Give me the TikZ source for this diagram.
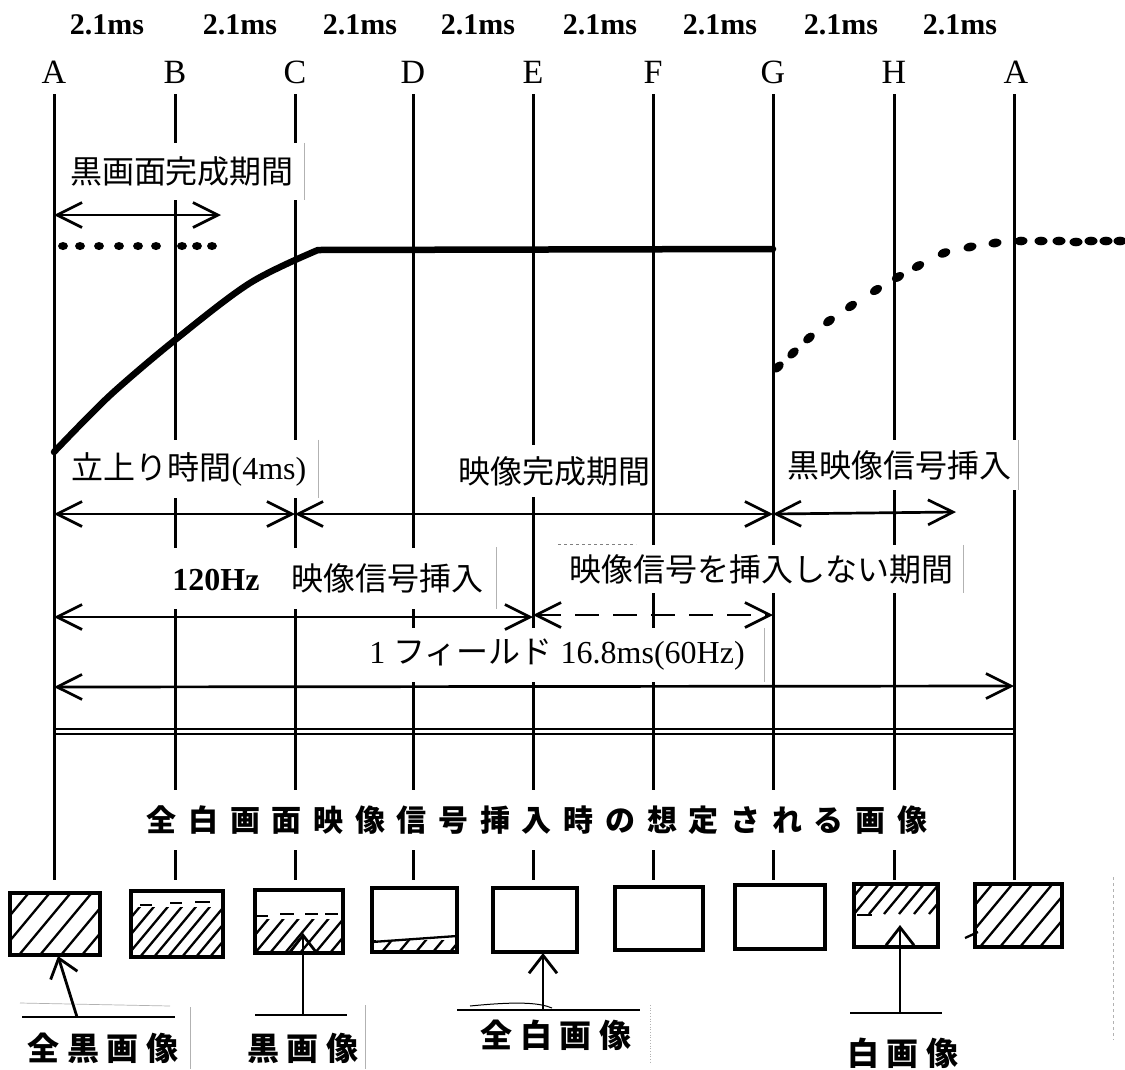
\documentclass[tikz,border=0pt]{standalone}
\usepackage{fontspec}
\setmainfont{Liberation Serif}
\newfontfamily\jpfont{Noto Sans CJK JP}
\newfontfamily\jpwide{Noto Sans CJK JP}[LetterSpace=39]
\newfontfamily\jpmid{Noto Sans CJK JP}[LetterSpace=24]
\usetikzlibrary{arrows.meta}
\newcommand{\myhatch}[5]{%
  \begin{scope}
    \clip (#1,#2) rectangle (#3,#4);
    \foreach \s in {0,...,16}{\draw[hatch] ({#1-75+\s*#5},#4) -- ++(75,-90);}
  \end{scope}}
\begin{document}
\begin{tikzpicture}[x=1pt,y=-1pt,
  vline/.style={line width=3pt},
  dimarrow/.style={line width=2.7pt,{Straight Barb[length=25pt,width=25pt]}-{Straight Barb[length=25pt,width=25pt]}},
  uparrow/.style={line width=2.8pt,-{Straight Barb[length=18pt,width=28pt]}},
  uline/.style={line width=2.8pt},
  hatch/.style={line width=2.3pt},
  picbox/.style={draw,line width=3.3pt,inner sep=0pt},
  paste/.style={gray!60,line width=0.7pt},
  lab/.style={fill=white,inner sep=0pt,font=\jpfont\fontsize{32}{38}\selectfont},
  letter/.style={font=\fontsize{34}{36}\selectfont},
  ms/.style={font=\bfseries\fontsize{30}{32}\selectfont},
  biglab/.style={font=\jpmid\bfseries\fontsize{32}{38}\selectfont},
]
\useasboundingbox (0,0) rectangle (1125,1069);
\fill[white] (0,0) rectangle (1125,1069);

% period labels
\foreach \x [count=\i] in {107,240,360,478,600,720,841,960}
  \node[ms] (ms\i) at (\x,25) {2.1ms};

% letters
\foreach \n/\x/\t in {la/54/A,lb/175/B,lc/295/C,ld/413/D,le/533/E,lf/653/F,lg/773/G,lh/894/H,lz/1016/A}
  \node[letter] (\n) at (\x,72) {\t};

% vertical lines
\foreach \n/\x in {A/54,B/175,C/295,D/413,E/533,F/653,G/773,H/894,Z/1014}{
  \coordinate (v\n) at (\x,94);
  \coordinate (w\n) at (\x,880);
}
\foreach \n in {A,B,C,D,E,F,G,H,Z}
  \draw[vline] (v\n) -- (w\n);

% double line
\draw[line width=1.6pt] (vA |- 0,729) -- (vZ |- 0,729);
\draw[line width=1.6pt] (vA |- 0,734) -- (vZ |- 0,734);

% white paste-up labels
\node[lab, minimum width=244pt, minimum height=57pt] (k1) at (182,171.5) {黒画面完成期間};
\node[lab, minimum width=258pt, minimum height=58pt] (k2) at (189,469) {立上り時間{\rmfamily(4ms)}};
\node[lab, minimum width=192pt, minimum height=52pt] (k3) at (554,471) {映像完成期間};
\node[lab, minimum width=238pt, minimum height=50pt] (k4) at (899,465) {黒映像信号挿入};
\node[lab, minimum width=336pt, minimum height=61pt] (k5) at (328,578) {{\rmfamily\bfseries 120Hz}\hspace{32pt}映像信号挿入};
\node[lab, minimum width=405pt, minimum height=48pt] (k6) at (761,569) {映像信号を挿入しない期間};
\node[lab, minimum width=415pt, minimum height=54pt] (k7) at (557,655) {{\rmfamily 1\ }フィールド{\rmfamily\ 16.8ms(60Hz)}};
\node[lab, minimum width=795pt, minimum height=60pt, font=\jpwide\bfseries\fontsize{30}{36}\selectfont] (k8) at (537,820) {全白画面映像信号挿入時の想定される画像};

% paste edges
\draw[paste] (k1.north east) -- (k1.south east);
\draw[paste] (k2.north east) -- (k2.south east);
\draw[paste] (k4.north east) -- (k4.south east);
\draw[paste] (k5.north east) -- (k5.south east);
\draw[paste] (k6.north east) -- (k6.south east);
\draw[paste, dashed, gray] (k6.north west) -- ++(78,0);
\draw[paste] (k7.north east) -- (k7.south east);
\draw[paste] (190,1007) -- (190,1069);
\draw[paste] (365,1005) -- (365,1069);
\draw[paste, dotted] (650,1005) -- (650,1062);
\draw[paste, dashed] (1113,877) -- (1113,1040);

% rising curve and plateau
\draw[line width=6.5pt, line join=round, line cap=round]
  plot[smooth, tension=0.55] coordinates {(54,452) (85,420) (117,389) (175,340) (250,283) (318,250)} -- (773,249);

% dotted levels
\foreach \x in {63,80,99,119,138,156,182,197,212}
  \fill (\x,246) ellipse [x radius=5pt, y radius=4pt];
\foreach \x/\y/\a in {778/367/43,793/353/43,809/338/40,829/321/36,851/306/34,876/290/32,898/277/30,918/266/28,944/253/22,970/247/13,995/243/8,1021/241/3,1041/241/0,1059/241/0,1076/242/0,1091/241/0,1106/241/0,1120/241/0}
  \fill[rotate around={\a:(\x,\y)}] (\x,\y) ellipse [x radius=6.5pt, y radius=4.3pt];

% dimension arrows
\coordinate (p0a) at (54,215); \coordinate (p0b) at (221,215);
\draw[dimarrow] (p0a) -- (p0b);
\coordinate (r1a) at (54,514); \coordinate (r1c) at (295,514);
\coordinate (r1g) at (773,514); \coordinate (r1e) at (956,512);
\draw[dimarrow] (r1a) -- (r1c);
\draw[dimarrow] (r1c) -- (r1g);
\draw[dimarrow] (r1g) -- (r1e);
\coordinate (r2a) at (54,617); \coordinate (r2e) at (533,617);
\coordinate (r2f) at (533,615); \coordinate (r2g) at (773,615);
\draw[dimarrow] (r2a) -- (r2e);
\draw[dimarrow, dash pattern=on 24pt off 14pt] (r2f) -- (r2g);
\coordinate (r3a) at (54,687); \coordinate (r3z) at (1014,686);
\draw[dimarrow] (r3a) -- (r3z);

% picture boxes
\node[picbox, minimum width=90pt, minimum height=62pt] (b1) at (55,924) {};
\node[picbox, minimum width=92pt, minimum height=66pt] (b2) at (177,924) {};
\node[picbox, minimum width=88pt, minimum height=63pt] (b3) at (299,921.5) {};
\node[picbox, minimum width=85pt, minimum height=64pt] (b4) at (414.5,920) {};
\node[picbox, minimum width=84pt, minimum height=64pt] (b5) at (535,920) {};
\node[picbox, minimum width=88pt, minimum height=63pt] (b6) at (659,918.5) {};
\node[picbox, minimum width=90pt, minimum height=64pt] (b7) at (780,917) {};
\node[picbox, minimum width=84pt, minimum height=63pt] (b8) at (896,915.5) {};
\node[picbox, minimum width=87pt, minimum height=63pt] (b9) at (1018.5,915.5) {};

% hatching
\myhatch{10}{893}{100}{955}{21}
\myhatch{131}{907}{223}{957}{14}
\draw[hatch] (140,905) -- (152,905) (170,903) -- (182,903) (195,902) -- (210,902);
\myhatch{255}{919}{343}{953}{15}
\draw[hatch] (257,916) -- (268,916) (280,914) -- (294,914) (305,914) -- (318,914) (325,914) -- (338,914);
\myhatch{372}{940}{457}{952}{17}
\draw[hatch] (372,942) -- (457,936);
\myhatch{854}{884}{938}{914}{15}
\draw[hatch] (857,915) -- (872,915);
\myhatch{975}{884}{1062}{947}{20}
\draw[hatch] (965,938) -- (978,932);

% bottom labels and pointers
\node[biglab] (n1) at (103,1048) {全黒画像};
\node[biglab] (n2) at (303,1048) {黒画像};
\node[biglab] (n3) at (556,1035) {全白画像};
\node[biglab] (n4) at (903,1053) {白画像};

\coordinate (u1a) at (22,1017); \coordinate (u1b) at (175,1017);
\draw[uline] (u1a) -- (u1b);
\draw[paste] (20,1003) -- (170,1006);
\coordinate (u1) at (77,1017); \coordinate (t1) at (58,956);
\draw[uparrow] (u1) -- (t1);

\coordinate (u2a) at (255,1015); \coordinate (u2b) at (347,1015);
\draw[uline] (u2a) -- (u2b);
\coordinate (u2) at (303,1015); \coordinate (t2) at (303,933);
\draw[uparrow] (u2) -- (t2);

\coordinate (u3a) at (457,1010); \coordinate (u3b) at (640,1010);
\draw[uline] (u3a) -- (u3b);
\draw[line width=1pt] (470,1006) .. controls (520,1001) and (540,1003) .. (552,1008);
\coordinate (u3) at (543,1010); \coordinate (t3) at (543,953);
\draw[uparrow] (u3) -- (t3);

\coordinate (u4a) at (850,1013); \coordinate (u4b) at (942,1013);
\draw[uline] (u4a) -- (u4b);
\coordinate (u4) at (900,1013); \coordinate (t4) at (900,925);
\draw[uparrow] (u4) -- (t4);
\end{tikzpicture}
\end{document}
